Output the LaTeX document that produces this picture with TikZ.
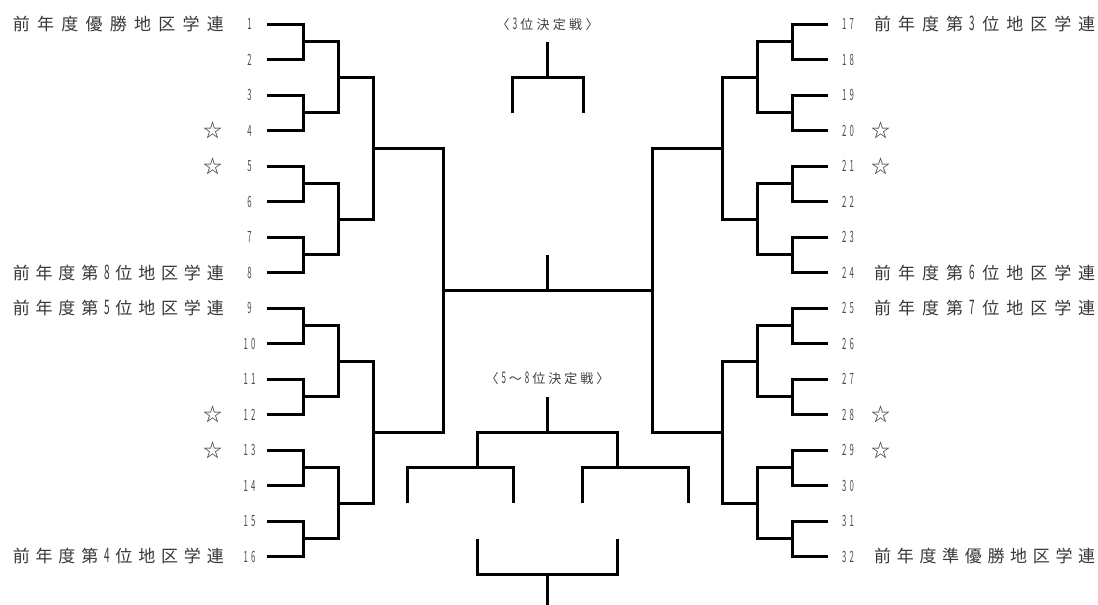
\documentclass[tikz,border=0pt]{standalone}
\usepackage{fontspec}
\setmainfont{Noto Sans CJK JP}
\usepackage{graphicx}
\newcommand\gp{\hfill}
\newcommand\nd[2]{\scalebox{0.5}[1]{\fontsize{#1}{#1}\selectfont #2}}
\newcommand\seednum[1]{\pgfmathtruncatemacro\sdT{int(#1/10)}\pgfmathtruncatemacro\sdU{mod(#1,10)}\ifnum#1<10 \nd{15.5}{\sdU}\else\nd{15.5}{\sdT}\kern3pt\nd{15.5}{\sdU}\fi}
\tikzset{
  declare function={ry(\r)=24+35.5*(\r-1);},
  wire/.style={line width=3pt, line join=miter},
  team/.style={inner sep=0pt, text=black!78, font=\fontsize{17}{17}\selectfont},
  seed/.style={inner sep=0pt, text=black!70},
  starmark/.style={inner sep=0pt, text=black!80, font=\fontsize{19}{19}\selectfont},
  caption/.style={inner sep=0pt, text=black!75, font=\fontsize{13}{13}\selectfont},
}
\begin{document}
\begin{tikzpicture}[x=1pt,y=-1pt]
\useasboundingbox (0,0) rectangle (1098,605);
\fill[white] (0,0) rectangle (1098,605);

% seed numbers
\foreach \n in {1,...,16}{
  \pgfmathtruncatemacro\m{\n+16}
  \node[seed] (num\n) at (249.5,{ry(\n)}) {\seednum{\n}};
  \node[seed] (num\m) at (848,{ry(\n)}) {\seednum{\m}};
}

% stars
\foreach \n in {4,5,12,13}{
  \node[starmark] (starL\n) at (213,{ry(\n)}) {☆};
  \node[starmark] (starR\n) at (881,{ry(\n)}) {☆};
}

% team labels
\node[team,anchor=east] (t1) at (224,{ry(1)}) {\makebox[211pt][s]{前\gp 年\gp 度\gp 優\gp 勝\gp 地\gp 区\gp 学\gp 連}};
\node[team,anchor=east] (t8) at (224,{ry(8)}) {\makebox[211pt][s]{前\gp 年\gp 度\gp 第\gp \nd{20}{8}\gp 位\gp 地\gp 区\gp 学\gp 連}};
\node[team,anchor=east] (t9) at (224,{ry(9)}) {\makebox[211pt][s]{前\gp 年\gp 度\gp 第\gp \nd{20}{5}\gp 位\gp 地\gp 区\gp 学\gp 連}};
\node[team,anchor=east] (t16) at (224,{ry(16)}) {\makebox[211pt][s]{前\gp 年\gp 度\gp 第\gp \nd{20}{4}\gp 位\gp 地\gp 区\gp 学\gp 連}};
\node[team,anchor=west] (t17) at (874,{ry(1)}) {\makebox[221pt][s]{前\gp 年\gp 度\gp 第\gp \nd{20}{3}\gp 位\gp 地\gp 区\gp 学\gp 連}};
\node[team,anchor=west] (t24) at (874,{ry(8)}) {\makebox[221pt][s]{前\gp 年\gp 度\gp 第\gp \nd{20}{6}\gp 位\gp 地\gp 区\gp 学\gp 連}};
\node[team,anchor=west] (t25) at (874,{ry(9)}) {\makebox[221pt][s]{前\gp 年\gp 度\gp 第\gp \nd{20}{7}\gp 位\gp 地\gp 区\gp 学\gp 連}};
\node[team,anchor=west] (t32) at (874,{ry(16)}) {\makebox[221pt][s]{前\gp 年\gp 度\gp 準\gp 優\gp 勝\gp 地\gp 区\gp 学\gp 連}};

% captions
\node[caption] (cap3) at (547.5,24) {\makebox[102pt][s]{〈\gp\nd{16}{3}\gp 位\gp 決\gp 定\gp 戦\gp 〉}};
\node[caption] (cap58) at (547.5,378.3) {\makebox[124pt][s]{〈\gp\nd{16}{5}\gp 〜\gp\nd{16}{8}\gp 位\gp 決\gp 定\gp 戦\gp 〉}};

% left and right brackets (right is mirror: x' = 1095 - x)
\foreach \s/\o in {1/0,-1/1095}{
  \foreach \k in {1,...,8}{
    \pgfmathsetmacro\ya{ry(2*\k-1)}\pgfmathsetmacro\yb{ry(2*\k)}
    \draw[wire] ({\o+\s*267},\ya) -- ({\o+\s*303},\ya) -- ({\o+\s*303},\yb) -- ({\o+\s*267},\yb);
  }
  \foreach \j in {1,...,4}{
    \pgfmathsetmacro\ya{ry(4*\j-2.5)}\pgfmathsetmacro\yb{ry(4*\j-0.5)}
    \draw[wire] ({\o+\s*303},\ya) -- ({\o+\s*338},\ya) -- ({\o+\s*338},\yb) -- ({\o+\s*303},\yb);
  }
  \foreach \i in {1,2}{
    \pgfmathsetmacro\ya{ry(8*\i-5.5)}\pgfmathsetmacro\yb{ry(8*\i-1.5)}
    \draw[wire] ({\o+\s*338},\ya) -- ({\o+\s*373},\ya) -- ({\o+\s*373},\yb) -- ({\o+\s*338},\yb);
  }
  \draw[wire] ({\o+\s*373},{ry(4.5)}) -- ({\o+\s*443},{ry(4.5)}) -- ({\o+\s*443},{ry(12.5)}) -- ({\o+\s*373},{ry(12.5)});
}
% final
\draw[wire] (443,{ry(8.5)}) -- (652,{ry(8.5)});
\draw[wire] (547.5,{ry(7.5)}) -- (547.5,{ry(8.5)});

% third place
\draw[wire] (547.5,{ry(1.5)}) -- (547.5,{ry(2.5)});
\draw[wire] (512,{ry(3.5)}) -- (512,{ry(2.5)}) -- (583,{ry(2.5)}) -- (583,{ry(3.5)});

% 5-8 place
\draw[wire] (547.5,396.7) -- (547.5,{ry(12.5)});
\draw[wire] (477.3,{ry(13.5)}) -- (477.3,{ry(12.5)}) -- (617.7,{ry(12.5)}) -- (617.7,{ry(13.5)});
\draw[wire] (407,{ry(14.5)}) -- (407,{ry(13.5)}) -- (513,{ry(13.5)}) -- (513,{ry(14.5)});
\draw[wire] (582,{ry(14.5)}) -- (582,{ry(13.5)}) -- (688,{ry(13.5)}) -- (688,{ry(14.5)});
\draw[wire] (477.3,{ry(15.5)}) -- (477.3,{ry(16.5)}) -- (617.7,{ry(16.5)}) -- (617.7,{ry(15.5)});
\draw[wire] (547.5,{ry(16.5)}) -- (547.5,605);
\end{tikzpicture}
\end{document}
